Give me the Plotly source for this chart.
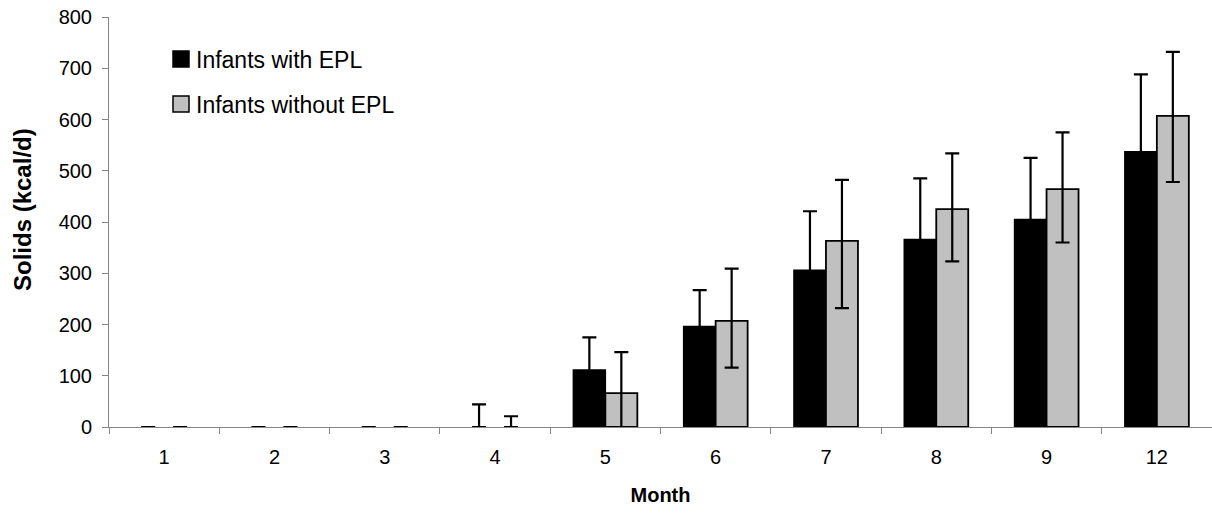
import plotly.graph_objects as go

months = ["1", "2", "3", "4", "5", "6", "7", "8", "9", "12"]
with_epl = [0, 0, 0, 0, 111, 196, 306, 366, 405, 537]
with_epl_err = [0, 0, 0, 44, 64, 71, 115, 119, 120, 151]
with_epl_err_minus = [0, 0, 0, 0, 64, 71, 115, 119, 120, 151]
without_epl = [0, 0, 0, 0, 66, 207, 363, 425, 464, 607]
without_epl_err_plus = [0, 0, 0, 21, 80, 102, 119, 109, 111, 125]
without_epl_err_minus = [0, 0, 0, 0, 80, 91, 131, 102, 104, 129]
y_ticks = [0, 100, 200, 300, 400, 500, 600, 700, 800]
series_names = ["Infants with EPL", "Infants without EPL"]
series_colors = ["#000000", "#C0C0C0"]

W, H = 1212, 513
L, R, T, B = 109, 0, 17, 86
PW, PH = W - L - R, H - T - B


def px_x(p):
    return (p - L) / PW


def px_y(p):
    return (H - B - p) / PH


def outline(vals, w):
    # zero-height bars get no outline (only their error caps show)
    return [w if v > 0 else 0 for v in vals]


fig = go.Figure()
fig.add_trace(go.Bar(
    x=months, y=with_epl, name=series_names[0],
    marker=dict(color=series_colors[0],
                line=dict(color="#000000", width=outline(with_epl, 1.5))),
    error_y=dict(type="data", array=with_epl_err, arrayminus=with_epl_err_minus,
                 symmetric=False, color="#000000", thickness=2.2, width=7),
))
fig.add_trace(go.Bar(
    x=months, y=without_epl, name=series_names[1],
    marker=dict(color=series_colors[1],
                line=dict(color="#000000", width=outline(without_epl, 1.8))),
    error_y=dict(type="data", array=without_epl_err_plus, arrayminus=without_epl_err_minus,
                 symmetric=False, color="#000000", thickness=2.2, width=7),
))

# legend drawn as boxes + text to match the original layout
shapes, annotations = [], []
for i, (name, col) in enumerate(zip(series_names, series_colors)):
    cy = 59 + i * 45
    shapes.append(dict(type="rect", xref="paper", yref="paper",
                       x0=px_x(173), x1=px_x(189), y0=px_y(cy + 8), y1=px_y(cy - 8),
                       fillcolor=col, line=dict(color="#000000", width=1.5)))
    annotations.append(dict(xref="paper", yref="paper", x=px_x(194), y=px_y(cy + 1),
                            xanchor="left", yanchor="middle", showarrow=False,
                            text=name, font=dict(size=23)))

# y-axis title
annotations.append(dict(xref="paper", yref="paper", x=px_x(22), y=px_y(210),
                        xanchor="center", yanchor="middle", showarrow=False,
                        textangle=-90, text="<b>Solids (kcal/d)</b>", font=dict(size=24)))

fig.update_layout(
    width=W, height=H,
    margin=dict(l=L, r=R, t=T, b=B),
    paper_bgcolor="white", plot_bgcolor="white",
    barmode="group", bargap=0.42, bargroupgap=0,
    font=dict(family="Liberation Sans, Arial, sans-serif", color="#000000", size=20),
    showlegend=False,
    shapes=shapes, annotations=annotations,
)
fig.update_xaxes(
    type="category", showline=True, linecolor="#868686", linewidth=1,
    ticks="outside", tickson="boundaries", ticklen=6, tickcolor="#868686",
    showgrid=False, tickfont=dict(size=20), automargin=False, ticklabelstandoff=12,
    title=dict(text="<b>Month</b>", font=dict(size=20), standoff=20),
)
fig.update_yaxes(
    range=[0, 800], tickvals=y_ticks, showline=True, linecolor="#868686", linewidth=1,
    ticks="outside", ticklen=6, tickcolor="#868686", showgrid=False, zeroline=False,
    tickfont=dict(size=20), automargin=False, ticklabelstandoff=6,
)
fig.write_html("out.html", post_script="document.body.style.margin='0px';",
               config={"displayModeBar": False})
